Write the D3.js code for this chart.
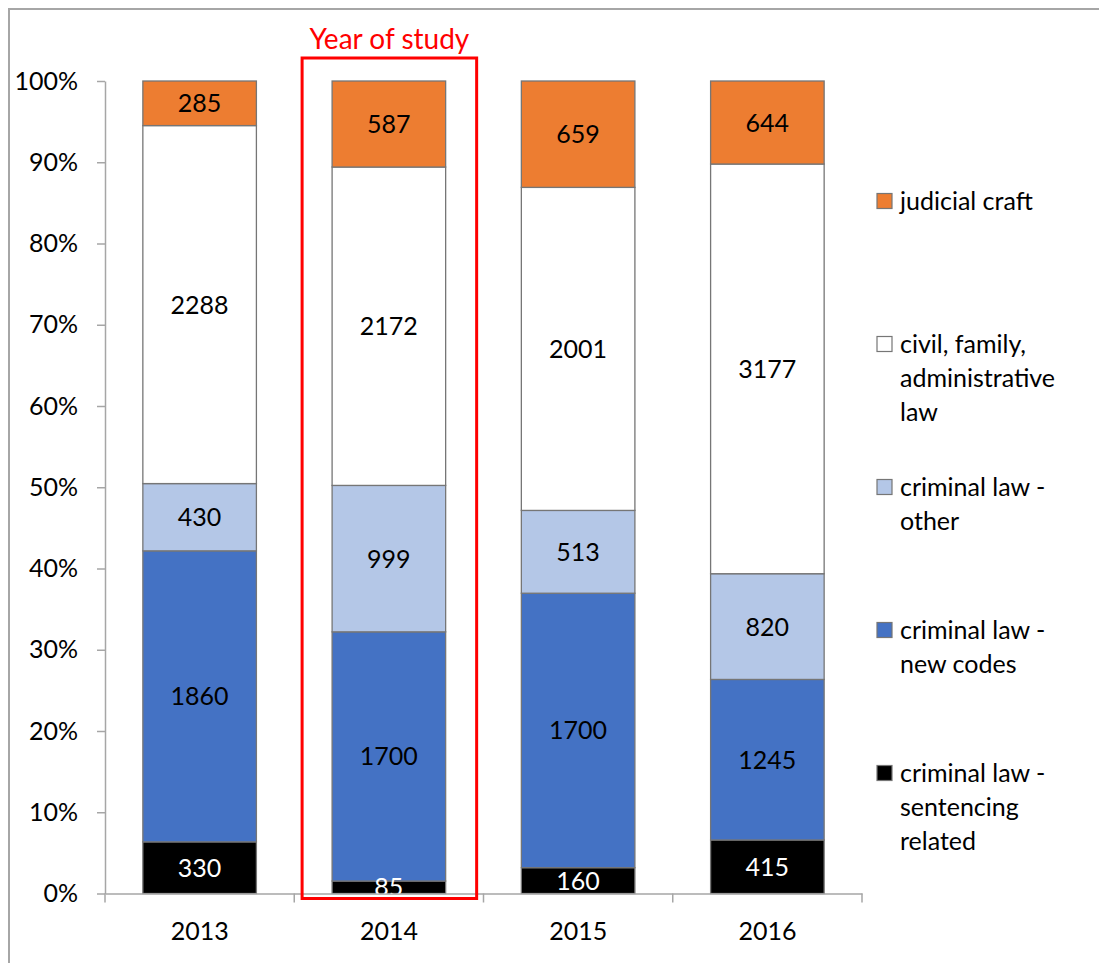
<!DOCTYPE html>
<html>
<head>
<meta charset="utf-8">
<script src="https://cdn.jsdelivr.net/npm/d3@7"></script>
<style>
  body { margin: 0; background: #fff; }
  svg { display: block; font-family: Lato, "Open Sans", sans-serif; }
</style>
</head>
<body>
<svg id="chart" width="1099" height="963"></svg>
<script>
// data, bottom of the stack first
const years = ["2013", "2014", "2015", "2016"];
const seriesNames = [
  "criminal law - sentencing related",
  "criminal law - new codes",
  "criminal law - other",
  "civil, family, administrative law",
  "judicial craft",
];
const sentencing = [330, 85, 160, 415];
const newCodes = [1860, 1700, 1700, 1245];
const criminalOther = [430, 999, 513, 820];
const civilFamily = [2288, 2172, 2001, 3177];
const judicialCraft = [285, 587, 659, 644];
const yTicks = [0, 0.1, 0.2, 0.3, 0.4, 0.5, 0.6, 0.7, 0.8, 0.9, 1];
const highlightYear = "2014";
const highlightLabel = "Year of study";

// legend text, wrapped like the original
const legendLines = [
  ["judicial craft"],
  ["civil, family,", "administrative", "law"],
  ["criminal law -", "other"],
  ["criminal law -", "new codes"],
  ["criminal law -", "sentencing", "related"],
];

const colors = ["#000000", "#4472c4", "#b4c7e7", "#ffffff", "#ed7d31"];
const labelColors = ["#fff", "#000", "#000", "#000", "#000"];
const fontSize = 25;

const seriesValues = [sentencing, newCodes, criminalOther, civilFamily, judicialCraft];
const table = years.map((y, i) => {
  const row = { year: y };
  seriesNames.forEach((s, k) => (row[s] = seriesValues[k][i]));
  return row;
});

const svg = d3.select("#chart");
const plot = { left: 105, right: 862, top: 81, bottom: 893.5 };

// outer frame (runs off the picture on the right and bottom)
svg.append("path")
  .attr("d", "M9,963V9H1099")
  .attr("fill", "none")
  .attr("stroke", "#a6a6a6")
  .attr("stroke-width", 2);

const x = d3.scaleBand().domain(years).range([plot.left, plot.right]).paddingInner(0.4).paddingOuter(0.2);
const y = d3.scaleLinear().domain([0, 1]).range([plot.bottom, plot.top]);

const stack = d3.stack().keys(seriesNames).offset(d3.stackOffsetExpand);
const layers = stack(table);

svg.append("defs").append("clipPath").attr("id", "plotClip")
  .append("rect")
  .attr("x", plot.left).attr("y", plot.top - 2)
  .attr("width", plot.right - plot.left).attr("height", plot.bottom - plot.top + 2);

// bars
const layerG = svg.append("g").selectAll("g")
  .data(layers)
  .join("g")
  .attr("fill", (d, i) => colors[i]);

layerG.selectAll("rect")
  .data((d) => d)
  .join("rect")
  .attr("x", (d) => x(d.data.year))
  .attr("width", x.bandwidth())
  .attr("y", (d) => y(d[1]))
  .attr("height", (d) => y(d[0]) - y(d[1]))
  .attr("stroke", "#767676")
  .attr("stroke-width", 1.3);

// axes
const yAxis = svg.append("g")
  .attr("transform", `translate(${plot.left},0)`)
  .call(d3.axisLeft(y).tickValues(yTicks).tickFormat(d3.format(".0%")).tickSize(8).tickSizeOuter(0).tickPadding(19));

const xAxis = svg.append("g")
  .attr("transform", `translate(0,${plot.bottom})`)
  .call(d3.axisBottom(x).tickSize(0).tickPadding(29));

// category boundary ticks
const boundaries = years.map((d) => x(d) - x.step() * x.paddingInner() / 2).concat([plot.right]);
xAxis.selectAll(".bound")
  .data(boundaries)
  .join("line")
  .attr("class", "bound")
  .attr("x1", (d) => d).attr("x2", (d) => d)
  .attr("y1", 0).attr("y2", 9);

[yAxis, xAxis].forEach((a) => {
  a.selectAll("path, line").attr("stroke", "#a6a6a6").attr("stroke-width", 1.5);
  a.selectAll("text").attr("font-size", fontSize).attr("fill", "#000").attr("font-family", "Lato, sans-serif");
});

// value labels
const labelG = svg.append("g").attr("clip-path", "url(#plotClip)");
layers.forEach((layer, i) => {
  labelG.selectAll(null)
    .data(layer)
    .join("text")
    .attr("x", (d) => x(d.data.year) + x.bandwidth() / 2)
    .attr("y", (d) => (y(d[0]) + y(d[1])) / 2)
    .attr("dy", "0.36em")
    .attr("text-anchor", "middle")
    .attr("font-size", fontSize)
    .attr("fill", labelColors[i])
    .text((d) => d.data[layer.key]);
});

// highlight box for the year of study
const hx0 = x(highlightYear) - 30;
const hx1 = x(highlightYear) + x.bandwidth() + 31;
svg.append("rect")
  .attr("x", hx0)
  .attr("y", y(1) - 23)
  .attr("width", hx1 - hx0)
  .attr("height", y(0) - y(1) + 28)
  .attr("fill", "none")
  .attr("stroke", "#ff0000")
  .attr("stroke-width", 3);

svg.append("text")
  .attr("x", (hx0 + hx1) / 2)
  .attr("y", 49)
  .attr("text-anchor", "middle")
  .attr("font-size", 28)
  .attr("fill", "#ff0000")
  .text(highlightLabel);

// legend (top entry = top of the stack)
const legendOrder = seriesNames.slice().reverse();
const legend = svg.append("g").attr("transform", "translate(877,0)");
const items = legend.selectAll("g")
  .data(legendOrder)
  .join("g")
  .attr("transform", (d, i) => `translate(0,${201 + i * 143})`);

items.append("rect")
  .attr("x", 0).attr("y", -7.5)
  .attr("width", 15).attr("height", 15)
  .attr("fill", (d) => colors[seriesNames.indexOf(d)])
  .attr("stroke", "#767676")
  .attr("stroke-width", 1.2);

items.append("text")
  .attr("font-size", fontSize)
  .attr("fill", "#000")
  .selectAll("tspan")
  .data((d, i) => legendLines[i])
  .join("tspan")
  .attr("x", 23)
  .attr("y", (d, j) => j * 34)
  .attr("dy", "0.36em")
  .text((d) => d);
</script>
</body>
</html>
